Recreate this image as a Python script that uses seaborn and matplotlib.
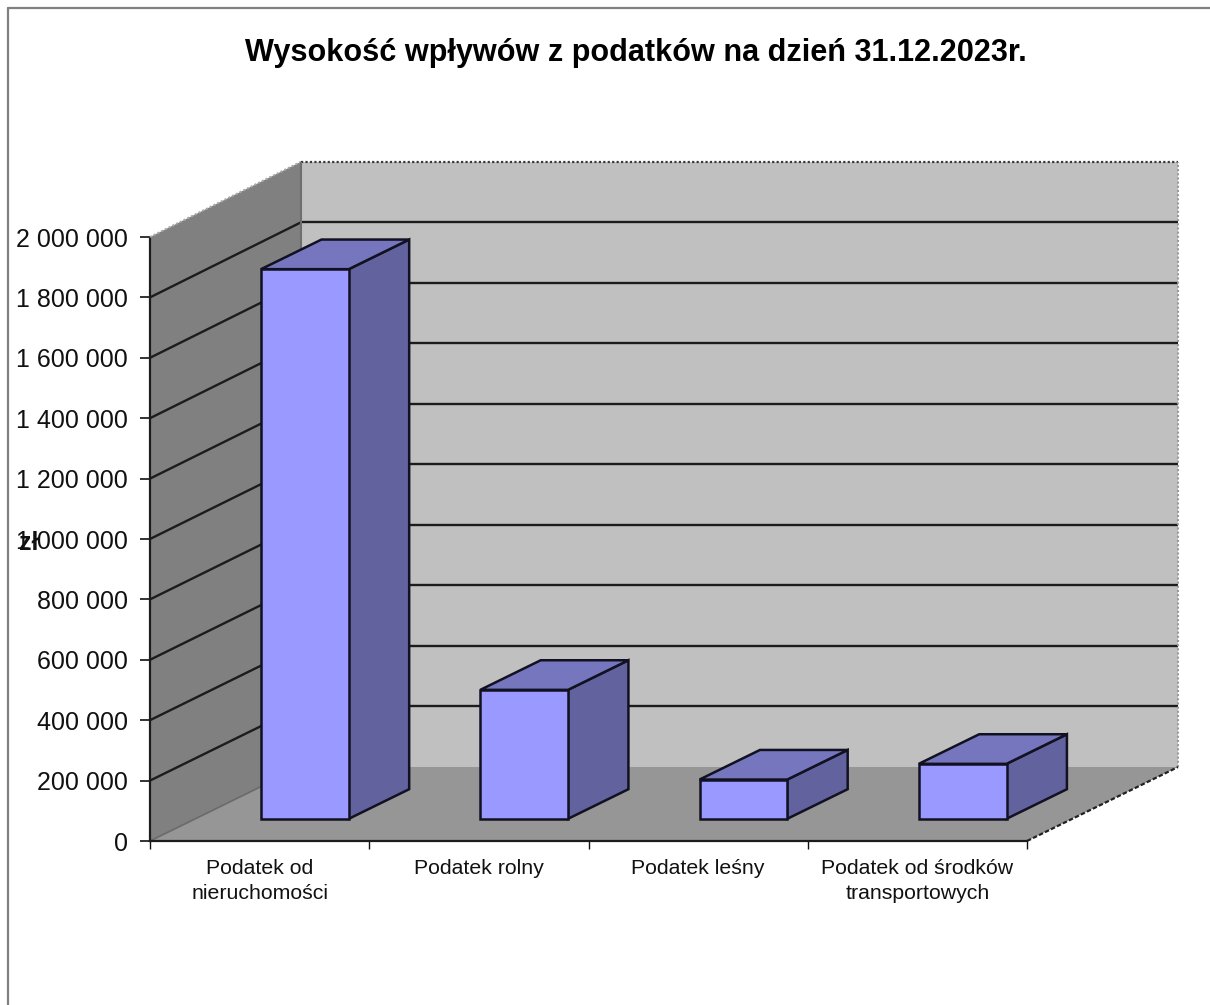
import numpy as np
import pandas as pd
import matplotlib
matplotlib.use("Agg")
import matplotlib.pyplot as plt
from matplotlib.lines import Line2D
from matplotlib.patches import Polygon
from matplotlib.ticker import FuncFormatter
import seaborn as sns

categories = ["Podatek od\nnieruchomości", "Podatek rolny", "Podatek leśny", "Podatek od środków\ntransportowych"]
values = [1820000, 427000, 130000, 182000]
y_ticks = [0, 200000, 400000, 600000, 800000, 1000000, 1200000, 1400000, 1600000, 1800000, 2000000]
title = "Wysokość wpływów z podatków na dzień 31.12.2023r."

sns.set_theme(style="white")
plt.rcParams["font.family"] = ["Liberation Sans", "DejaVu Sans"]

W, H = 1210, 1005
fig = plt.figure(figsize=(W / 100, H / 100), dpi=100, facecolor="white")
# front plane of the fake 3d box
ax = fig.add_axes([150 / W, 1 - 841 / H, 877 / W, 604 / H])
ax.patch.set_visible(False)

df = pd.DataFrame({"kategoria": categories, "wartosc": values})
sns.barplot(data=df, x="kategoria", y="wartosc", width=0.4, color="#9999FF", saturation=1,
            edgecolor="#111122", linewidth=1.8, zorder=5, ax=ax)
ax.set_xlim(-0.5, 3.5)
ax.set_ylim(0, 2000000)

# full box depth, in data units
depth_x = 151 / (877 / 4)
depth_y = 74 / (604 / 2000000)
back_scale = 1.002  # back wall comes out a touch taller than the front plane


def pt(x, y, d):
    return (x + d * depth_x, y * (1 + (back_scale - 1) * d) + d * depth_y)


x0, x1 = ax.get_xlim()
y0, y1 = ax.get_ylim()


def face(pts, color, z, **kw):
    ax.add_patch(Polygon(pts, closed=True, facecolor=color, edgecolor=kw.pop("edge", "none"),
                         zorder=z, clip_on=False, **kw))


# walls and floor
face([pt(x0, y0, 1), pt(x1, y0, 1), pt(x1, y1, 1), pt(x0, y1, 1)], "#C0C0C0", 1)
face([pt(x0, y0, 0), pt(x0, y0, 1), pt(x0, y1, 1), pt(x0, y1, 0)], "#808080", 1)
face([pt(x0, y0, 0), pt(x1, y0, 0), pt(x1, y0, 1), pt(x0, y0, 1)], "#969696", 2)


def seg(a, b, **kw):
    ax.plot([a[0], b[0]], [a[1], b[1]], clip_on=False, solid_capstyle="butt", **kw)


for t in y_ticks[1:-1]:
    seg(pt(x0, t, 1), pt(x1, t, 1), color="#1c1c1c", lw=1.7, zorder=3)
    seg(pt(x0, t, 0), pt(x0, t, 1), color="#1c1c1c", lw=1.7, zorder=3)

dots = (0, (1, 1))
seg(pt(x0, y1, 1), pt(x1, y1, 1), color="#3a3a3a", lw=1.6, ls=dots, zorder=3)
seg(pt(x0, y1, 0), pt(x0, y1, 1), color="#a8a8a8", lw=1.5, ls=dots, zorder=3)
seg(pt(x1, y0, 1), pt(x1, y1, 1), color="#9a9a9a", lw=1.5, ls=dots, zorder=3)
seg(pt(x0, y1, 1), pt(x0, y0, 1), color="#6e6e6e", lw=1.5, zorder=3)
seg(pt(x0, y0, 0), pt(x0, y0, 1), color="#6a6a6a", lw=1.2, zorder=3)
seg(pt(x1, y0, 0), pt(x1, y0, 1), color="#222222", lw=1.6, ls=(0, (2, 1)), zorder=3)

# turn the flat bars into boxes: the bar stands in the middle of the depth
front, back = 0.3, 0.7
for p in ax.patches:
    if p.get_zorder() != 5:
        continue
    x, w, h = p.get_x(), p.get_width(), p.get_height()
    p.set_x(x + front * depth_x)
    p.set_y(front * depth_y)
    p.set_clip_on(False)
    xa, xb = x + front * depth_x, x + w + front * depth_x
    b = front * depth_y
    dx, dy = (back - front) * depth_x, (back - front) * depth_y
    face([(xb, b), (xb + dx, b + dy), (xb + dx, b + h + dy), (xb, b + h)], "#62629F", 4,
         edge="#111122", linewidth=1.8)
    face([(xa, b + h), (xb, b + h), (xb + dx, b + h + dy), (xa + dx, b + h + dy)], "#7676BE", 4,
         edge="#111122", linewidth=1.8)

# axes
for s in ["top", "right"]:
    ax.spines[s].set_visible(False)
for s in ["left", "bottom"]:
    ax.spines[s].set_color("#1c1c1c")
    ax.spines[s].set_linewidth(1.6)
    ax.spines[s].set_linestyle(dots)
    ax.spines[s].set_zorder(6)

ax.set_yticks(y_ticks)
ax.yaxis.set_major_formatter(FuncFormatter(lambda v, _: f"{int(v):,}".replace(",", " ")))
ax.tick_params(axis="y", left=True, length=7, width=1.2, color="#111111", labelsize=18,
               labelcolor="#111111", pad=9)
ax.set_xticks(range(len(categories)))
ax.set_xticklabels(categories, linespacing=1.38)
ax.set_xticks(np.arange(x0, x1 + 1), minor=True)
ax.tick_params(axis="x", which="major", bottom=False, labelsize=15.3, labelcolor="#111111", pad=7)
ax.tick_params(axis="x", which="minor", bottom=True, length=6, width=1, color="#111111")

ax.set_xlabel("")
ax.set_ylabel("zł", rotation=0, fontsize=18, fontweight="bold", color="#111111", va="center", ha="center")
ax.yaxis.set_label_coords(-0.138, 0.493)

fig.text(635.5 / W, 1 - 53 / H, title, ha="center", va="center", fontsize=22.1, fontweight="bold", color="black")

# chart border: only left and top are in the screenshot
fig.add_artist(Line2D([8 / W, 8 / W], [0, 1 - 8 / H], color="#808080", lw=1.6))
fig.add_artist(Line2D([8 / W, 1], [1 - 8 / H, 1 - 8 / H], color="#808080", lw=1.6))

fig.savefig("out.png", dpi=100)
